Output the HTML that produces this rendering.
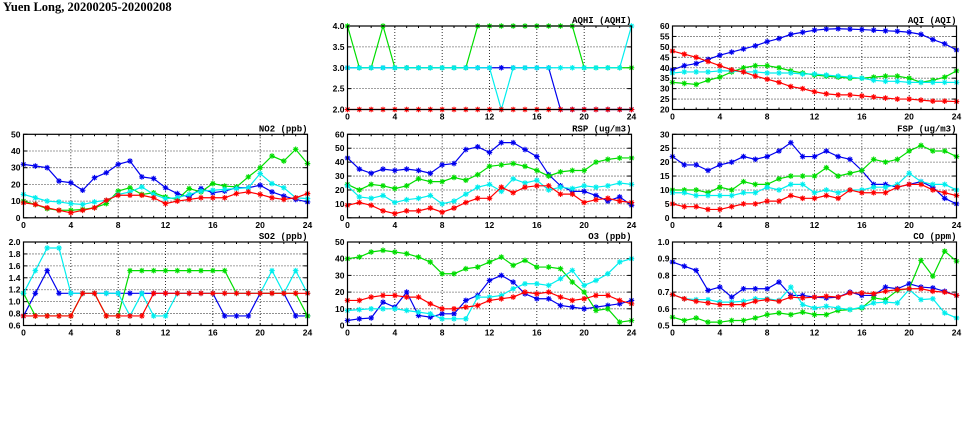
<!DOCTYPE html>
<html><head><meta charset="utf-8">
<style>
html,body{margin:0;padding:0;background:#fff;width:975px;height:447px;overflow:hidden}
svg{display:block}
text{font-family:"Liberation Sans",sans-serif;font-weight:bold;font-size:8.5px;fill:#000}
.ttl{font-family:"Liberation Serif",serif;font-size:12.5px;font-weight:bold}
.pt{font-family:"Liberation Mono",monospace;font-size:9px}
</style></head>
<body>
<svg id="chart" width="975" height="447">
<text class="ttl" x="3" y="11">Yuen Long, 20200205-20200208</text>
</svg>
<script>
const hours = [0,1,2,3,4,5,6,7,8,9,10,11,12,13,14,15,16,17,18,19,20,21,22,23,24];
const xTicks = [0,4,8,12,16,20,24];
const seriesColors = ["#0000ee","#00dd00","#00eeee","#ff0000"];
const seriesNames = ["blue","green","cyan","red"];

const no2Blue  = [32,31,30,22,21,16.5,24,27,32,34,24.5,23.5,18,14.5,12.5,17.5,15,16,18,18,19.5,15.5,13,11,9.5];
const no2Green = [10,8,5.5,4.5,4.5,5,6,8.5,16,18,14,15,12.5,11,17.5,15.5,20.5,19,18.5,24.5,30,37,34,41,32.5];
const no2Cyan  = [14,12,10,9.5,8.5,8,9.5,10.5,14,15.5,18.5,14,11.5,12,14,16,16.5,17,17.5,18,26.5,20.5,18,12,11.5];
const no2Red   = [9,8,6,4.5,3,4.5,6,10.5,13.5,13.5,13.5,12,8.5,10,11,12,12,12,14.5,15.5,14,12,11,12,14.5];

const so2Blue  = [0.76,1.14,1.52,1.14,1.14,1.14,1.14,1.14,1.14,1.14,1.14,1.14,1.14,1.14,1.14,1.14,1.14,0.76,0.76,0.76,1.14,1.14,1.14,0.76,0.76];
const so2Green = [1.14,0.76,0.76,0.76,0.76,1.14,1.14,0.76,0.76,1.52,1.52,1.52,1.52,1.52,1.52,1.52,1.52,1.52,1.14,1.14,1.14,1.14,1.14,1.14,0.76];
const so2Cyan  = [1.14,1.52,1.9,1.9,1.14,1.14,1.14,1.14,1.14,0.76,1.14,0.76,0.76,1.14,1.14,1.14,1.14,1.14,1.14,1.14,1.14,1.52,1.14,1.52,1.14];
const so2Red   = [0.76,0.76,0.76,0.76,0.76,1.14,1.14,0.76,0.76,0.76,0.76,1.14,1.14,1.14,1.14,1.14,1.14,1.14,1.14,1.14,1.14,1.14,1.14,1.14,1.14];

const aqhiBlue  = [3,3,3,3,3,3,3,3,3,3,3,3,3,3,3,3,3,3,2,2,2,2,2,2,2];
const aqhiGreen = [4,3,3,4,3,3,3,3,3,3,3,4,4,4,4,4,4,4,4,4,3,3,3,3,3];
const aqhiCyan  = [3,3,3,3,3,3,3,3,3,3,3,3,3,2,3,3,3,3,3,3,3,3,3,3,4];
const aqhiRed   = [2,2,2,2,2,2,2,2,2,2,2,2,2,2,2,2,2,2,2,2,2,2,2,2,2];

const aqiBlue  = [39,41,42,44,46,47.5,49,50.5,52.5,54,56,57,58,58.5,58.7,58.5,58.3,58,57.7,57.5,57,56,53.5,51.5,48.5];
const aqiGreen = [33,32.5,32,34,35.5,38,40,41,41,40,38.5,37.5,36.5,36,35.5,35,35,35.5,36,36,35,33,34,35.5,38.5];
const aqiCyan  = [37.5,38,38,38,38.5,38.5,38,38,37.5,37.5,37.5,37,37,36.5,36,35.5,35,34,33.5,33.5,33,33,33,33,33];
const aqiRed   = [48,46.5,45,43,41,39,38,36,34.5,33,31,30,28.5,27.5,27,27,26.5,26,25.5,25,25,24.5,24,24,23.8];

const rspBlue  = [43,35,32,35,34,35,34,32,38,39,49,51,47,54,54,49,44,31,23,19,19,16,12,15,9];
const rspGreen = [24,20,24,23,21,23,28,26,26,29,27,31,37,38,39,37,34,30,33,34,34,40,42,43,43];
const rspCyan  = [23,15,14,16,11,13,14,16,10,12,17,22,24,19,28,25,27,20,22,21,23,22,23,25,24];
const rspRed   = [9,11,9,5,3,5,5,7,4,7,11,14,14,22,18,22,23,23,17,17,11,13,14,12,11];

const fspBlue  = [22,19,19,17,19,20,22,21,22,24,27,22,22,24,22,21,17,12,12,11,12,13,11,7,5];
const fspGreen = [10,10,10,9,11,10,13,12,12,14,15,15,15,18,15,16,17,21,20,21,24,26,24,24,22];
const fspCyan  = [9,9,8,8,8,8,9,9,11,10,12,12,9,10,9,10,10,11,11,12,16,13,12,12,10];
const fspRed   = [5,4,4,3,3,4,5,5,6,6,8,7,7,8,7,10,9,9,9,11,12,12,10,9,8];

const o3Blue  = [3,4,4.5,14,11,20,6,5,7,7,15,18,27,30,26,19,16,16,12,11,10,11,12,13,15];
const o3Green = [40,41,44,45,44,43,41,38,31,31,34,35,38,41,36,39,35,35,34,26,20,9,10,2,3];
const o3Cyan  = [9,9.5,10,10,10,9,8,7,4,4,4,17,17,18,22,25,25,24,28,33,24,27,31,38,40];
const o3Red   = [15,15,17,18,18,17,17,13,10,10,11,12,15,16,17,20,19,20,17,15,16,18,18,15,13];

const coBlue  = [0.88,0.855,0.83,0.71,0.73,0.67,0.72,0.72,0.72,0.76,0.68,0.68,0.67,0.665,0.67,0.70,0.68,0.68,0.73,0.72,0.75,0.73,0.725,0.705,0.68];
const coGreen = [0.55,0.53,0.545,0.52,0.52,0.53,0.53,0.545,0.565,0.575,0.565,0.58,0.565,0.565,0.59,0.595,0.605,0.665,0.655,0.71,0.72,0.89,0.795,0.945,0.885];
const coCyan  = [0.685,0.66,0.655,0.655,0.64,0.64,0.645,0.66,0.66,0.65,0.73,0.625,0.605,0.615,0.605,0.595,0.61,0.635,0.64,0.635,0.715,0.655,0.66,0.575,0.545];
const coRed   = [0.685,0.66,0.645,0.635,0.625,0.625,0.625,0.645,0.655,0.645,0.67,0.665,0.67,0.675,0.67,0.695,0.695,0.69,0.705,0.715,0.72,0.72,0.705,0.70,0.68];

const panels = [
 {name:"aqhi", title:"AQHI (AQHI)", col:1,row:0, yMin:2,yMax:4,yStep:0.5,dec:1, series:[aqhiBlue,aqhiGreen,aqhiCyan,aqhiRed]},
 {name:"aqi", title:"AQI (AQI)", col:2,row:0, yMin:20,yMax:60,yStep:5,dec:0, series:[aqiBlue,aqiGreen,aqiCyan,aqiRed]},
 {name:"no2", title:"NO2 (ppb)", col:0,row:1, yMin:0,yMax:50,yStep:10,dec:0, series:[no2Blue,no2Green,no2Cyan,no2Red]},
 {name:"rsp", title:"RSP (ug/m3)", col:1,row:1, yMin:0,yMax:60,yStep:10,dec:0, series:[rspBlue,rspGreen,rspCyan,rspRed]},
 {name:"fsp", title:"FSP (ug/m3)", col:2,row:1, yMin:0,yMax:30,yStep:5,dec:0, series:[fspBlue,fspGreen,fspCyan,fspRed]},
 {name:"so2", title:"SO2 (ppb)", col:0,row:2, yMin:0.6,yMax:2.0,yStep:0.2,dec:1, series:[so2Blue,so2Green,so2Cyan,so2Red]},
 {name:"o3", title:"O3 (ppb)", col:1,row:2, yMin:0,yMax:50,yStep:10,dec:0, series:[o3Blue,o3Green,o3Cyan,o3Red]},
 {name:"co", title:"CO (ppm)", col:2,row:2, yMin:0.5,yMax:1.0,yStep:0.1,dec:1, series:[coBlue,coGreen,coCyan,coRed]}
];
const colX=[23.5,347.5,672.5], rowY=[26,134.3,242], PW=284, PH=83.5;
const NS="http://www.w3.org/2000/svg";
const svg=document.getElementById("chart");
function mk(tag,attrs,parent){const e=document.createElementNS(NS,tag);for(const k in attrs)e.setAttribute(k,attrs[k]);(parent||svg).appendChild(e);return e;}

panels.forEach(p=>{
  const L=colX[p.col], T=rowY[p.row];
  const g=mk("g",{});
  
  
  const xs=h=>L+h/24*PW;
  const ys=v=>T+PH-(v-p.yMin)/(p.yMax-p.yMin)*PH;
  const nT=Math.round((p.yMax-p.yMin)/p.yStep);
  for(let i=0;i<=nT;i++){
    const v=p.yMin+i*p.yStep, y=ys(v);
    if(i>0&&i<nT){const gl=mk("line",{x1:L,x2:L+PW,y1:y,y2:y,stroke:"#000","stroke-width":0.8,"stroke-dasharray":"1,2"},g);
      
      }
    mk("line",{x1:L,x2:L+4,y1:y,y2:y,stroke:"#000","stroke-width":1},g);
    mk("line",{x1:L+PW-4,x2:L+PW,y1:y,y2:y,stroke:"#000","stroke-width":1},g);
    const t=mk("text",{x:L-3,y:y+3,"text-anchor":"end"},g);
    t.textContent=v.toFixed(p.dec);
    
    
  }
  hours.forEach(h=>{const x=xs(h);mk("line",{x1:x,x2:x,y1:T+PH,y2:T+PH-2,stroke:"#000","stroke-width":1},g);mk("line",{x1:x,x2:x,y1:T,y2:T+2,stroke:"#000","stroke-width":1},g);});
  xTicks.forEach(h=>{
    const x=xs(h);
    if(h>0&&h<24){const gl=mk("line",{x1:x,x2:x,y1:T,y2:T+PH,stroke:"#000","stroke-width":0.8,"stroke-dasharray":"1,2"},g);
      
      }
    const t=mk("text",{x:x,y:T+PH+10,"text-anchor":"middle"},g);
    t.textContent=h;
    
    
  });
  p.series.forEach((s,si)=>{
    const c=seriesColors[si];
    const pl=mk("polyline",{points:s.map((v,i)=>xs(hours[i])+","+ys(v)).join(" "),fill:"none",stroke:c,"stroke-width":1.2},g);
    
    
    s.forEach((v,i)=>{
      const x=xs(hours[i]),y=ys(v),r=2.8;
      const m=mk("path",{d:`M${x-r},${y}H${x+r}M${x},${y-r}V${y+r}M${x-2},${y-2}L${x+2},${y+2}M${x-2},${y+2}L${x+2},${y-2}`,stroke:c,"stroke-width":1.1,fill:"none"},g);
      
      
    });
  });
  const fr=mk("rect",{x:L,y:T,width:PW,height:PH,fill:"none",stroke:"#000","stroke-width":1.2},g);
  
  
  const tt=mk("text",{x:L+PW,y:T-3,"text-anchor":"end",class:"pt"},g);
  tt.textContent=p.title;
  
  
});
</script>
</body></html>
